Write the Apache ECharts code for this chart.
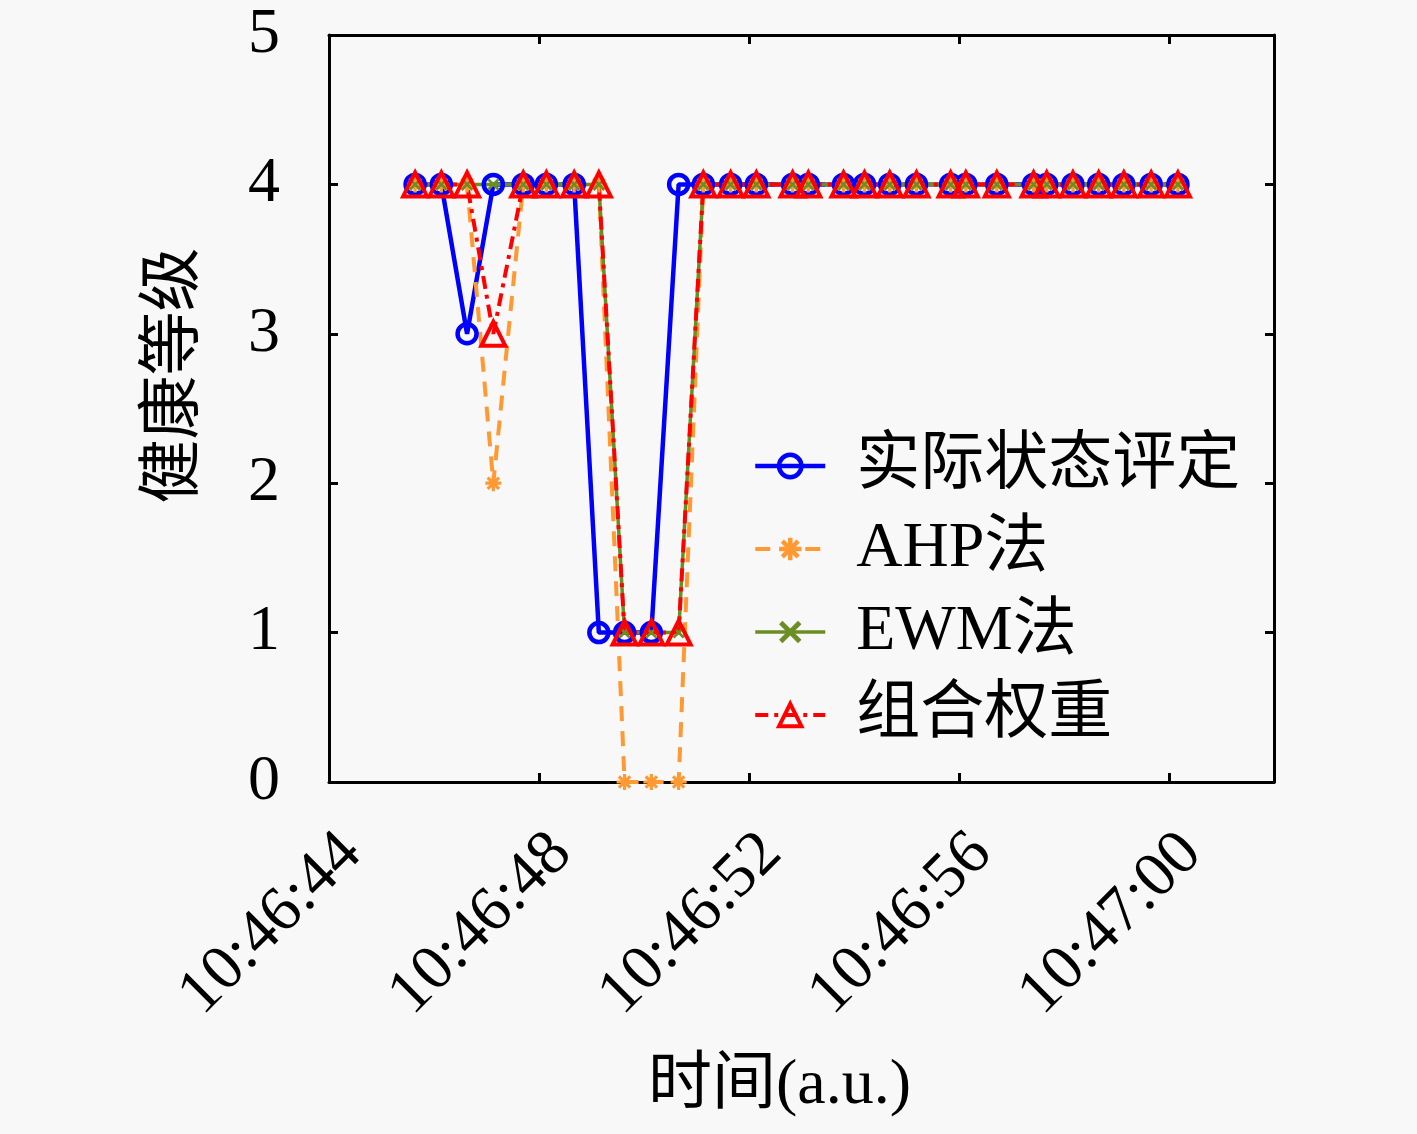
<!DOCTYPE html>
<html>
<head>
<meta charset="utf-8">
<script src="https://cdn.jsdelivr.net/npm/echarts@6/dist/echarts.min.js"></script>
<style>
html,body{margin:0;padding:0;background:#f8f8f8;}
#chart{width:1417px;height:1134px;}
</style>
</head>
<body>
<div id="chart"></div>
<script>
// seconds after 10:46:44
var times = [1.64, 2.14, 2.63, 3.13, 3.70, 4.14, 4.67, 5.14, 5.63, 6.14, 6.66, 7.13, 7.65, 8.14, 8.83, 9.13, 9.80, 10.20, 10.68, 11.19, 11.84, 12.13, 12.72, 13.42, 13.67, 14.17, 14.66, 15.14, 15.66, 16.17];
var actual   = [4, 4, 3, 4, 4, 4, 4, 1, 1, 1, 4, 4, 4, 4, 4, 4, 4, 4, 4, 4, 4, 4, 4, 4, 4, 4, 4, 4, 4, 4];
var ahp      = [4, 4, 4, 2, 4, 4, 4, 4, 0, 0, 0, 4, 4, 4, 4, 4, 4, 4, 4, 4, 4, 4, 4, 4, 4, 4, 4, 4, 4, 4];
var ewm      = [4, 4, 4, 4, 4, 4, 4, 4, 1, 1, 1, 4, 4, 4, 4, 4, 4, 4, 4, 4, 4, 4, 4, 4, 4, 4, 4, 4, 4, 4];
var combined = [4, 4, 4, 3, 4, 4, 4, 4, 1, 1, 1, 4, 4, 4, 4, 4, 4, 4, 4, 4, 4, 4, 4, 4, 4, 4, 4, 4, 4, 4];
var xTickLabels = ['10:46:44', '10:46:48', '10:46:52', '10:46:56', '10:47:00'];
var seriesNames = ['实际状态评定', 'AHP法', 'EWM法', '组合权重'];

function pairs(vals) {
  return times.map(function (t, i) { return [t, vals[i]]; });
}

var FONT = "'Liberation Serif', 'Noto Sans CJK SC', serif";
var asterisk = 'path://M-10,-2L10,-2L10,2L-10,2Z M-2,-10L2,-10L2,10L-2,10Z M-5.66,-8.49L8.49,5.66L5.66,8.49L-8.49,-5.66Z M-8.49,5.66L5.66,-8.49L8.49,-5.66L-5.66,8.49Z';
var cross = 'path://M-5.8,-8.35L8.35,5.8L5.8,8.35L-8.35,-5.8Z M-8.35,5.8L5.8,-8.35L8.35,-5.8L-5.8,8.35Z';

var chart = echarts.init(document.getElementById('chart'));
var axisLine = { show: true, onZero: false, lineStyle: { color: '#000', width: 3 } };
var axisTick = { show: true, inside: true, length: 9, lineStyle: { color: '#000', width: 3 } };

chart.setOption({
  backgroundColor: '#f8f8f8',
  animation: false,
  grid: { left: 329, right: 143, top: 35, bottom: 352, containLabel: false },
  xAxis: [{
    type: 'value', min: 0, max: 18, interval: 4,
    axisLine: axisLine, axisTick: axisTick, splitLine: { show: false },
    axisLabel: {
      rotate: 45, margin: 39, align: 'right', verticalAlign: 'top',
      fontFamily: FONT, fontSize: 64, color: '#000', showMaxLabel: false,
      formatter: function (v) { return (v % 4 === 0 && v <= 16) ? xTickLabels[v / 4] : ''; }
    },
    name: '时间(a.u.)', nameLocation: 'middle', nameGap: 272,
    nameTextStyle: { fontFamily: FONT, fontSize: 64, color: '#000', verticalAlign: 'top', padding: [0, 44, 0, 0] }
  }, {
    type: 'value', min: 0, max: 18, interval: 4, position: 'top',
    axisLine: axisLine, axisTick: axisTick, axisLabel: { show: false }, splitLine: { show: false }
  }],
  yAxis: [{
    type: 'value', min: 0, max: 5, interval: 1,
    axisLine: axisLine, axisTick: axisTick, splitLine: { show: false },
    axisLabel: { margin: 49, fontFamily: FONT, fontSize: 64, color: '#000' },
    name: '健康等级', nameLocation: 'middle', nameGap: 122, nameRotate: 90,
    nameTextStyle: { fontFamily: FONT, fontSize: 64, color: '#000', padding: [0, 0, 0, 66] }
  }, {
    type: 'value', min: 0, max: 5, interval: 1, position: 'right',
    axisLine: axisLine, axisTick: axisTick, axisLabel: { show: false }, splitLine: { show: false }
  }],
  legend: {
    orient: 'vertical', left: 753, top: 434, padding: 0,
    itemWidth: 70, itemHeight: 28, itemGap: 19,
    textStyle: { fontFamily: FONT, fontSize: 64, color: '#000', lineHeight: 64, padding: [0, 0, 0, 26] },
    data: [
      { name: seriesNames[0], lineStyle: { width: 4.5 }, itemStyle: { borderWidth: 4.5 } },
      { name: seriesNames[1], lineStyle: { width: 4 } },
      { name: seriesNames[2], lineStyle: { width: 3.5 } },
      { name: seriesNames[3], lineStyle: { width: 4 }, itemStyle: { borderWidth: 4 } }
    ]
  },
  series: [{
    name: seriesNames[0], type: 'line', data: pairs(actual),
    symbol: 'circle', symbolSize: 19, showAllSymbol: true,
    lineStyle: { color: '#0000ff', width: 4.5 },
    itemStyle: { color: 'rgba(0,0,0,0)', borderColor: '#0000ff', borderWidth: 4.5 }
  }, {
    name: seriesNames[1], type: 'line', data: pairs(ahp),
    symbol: asterisk, symbolSize: 16, showAllSymbol: true,
    lineStyle: { color: '#ff9933', width: 4, type: [15, 10] },
    itemStyle: { color: '#ff9933', borderWidth: 0 }
  }, {
    name: seriesNames[2], type: 'line', data: pairs(ewm),
    symbol: cross, symbolSize: 12, showAllSymbol: true,
    lineStyle: { color: '#6b8e23', width: 3.5 },
    itemStyle: { color: '#6b8e23', borderWidth: 0 }
  }, {
    name: seriesNames[3], type: 'line', data: pairs(combined),
    symbol: 'triangle', symbolSize: 24, showAllSymbol: true,
    lineStyle: { color: '#ff0000', width: 4, type: [13, 6, 4, 6] },
    itemStyle: { color: 'rgba(0,0,0,0)', borderColor: '#ff0000', borderWidth: 4 }
  }]
});
</script>
</body>
</html>
